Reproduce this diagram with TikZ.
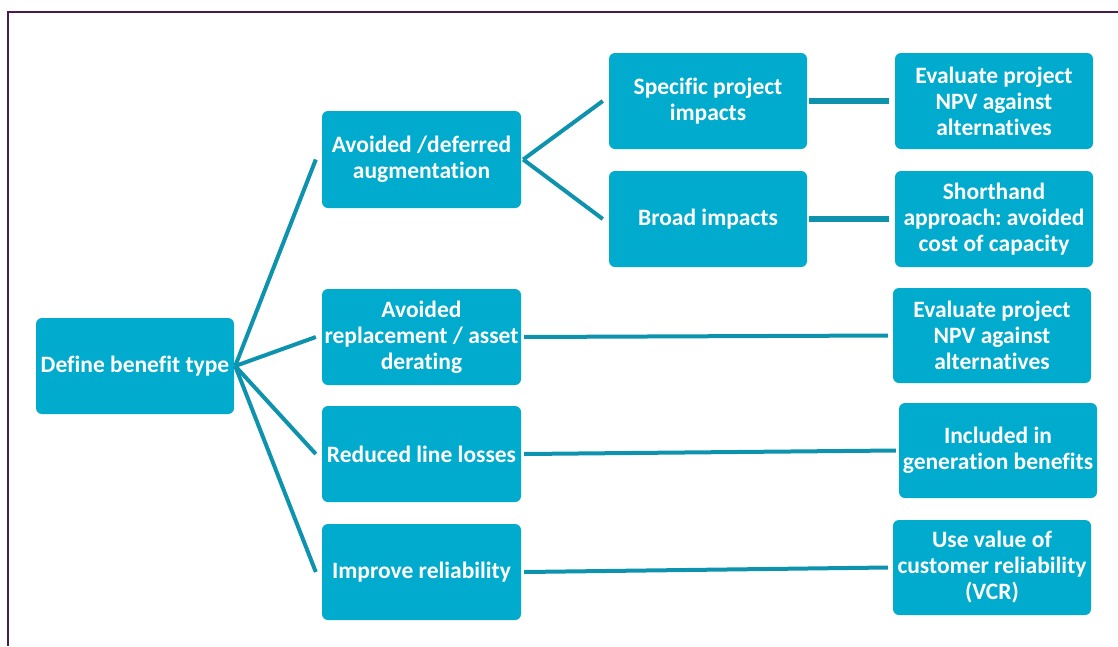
\documentclass[tikz,border=0pt]{standalone}
\usepackage{fontspec}
\setmainfont{Carlito}[Ligatures={NoCommon}]
\frenchspacing
\usetikzlibrary{calc}
\definecolor{boxfill}{HTML}{00ABCD}
\definecolor{linkcol}{HTML}{0D93AE}
\definecolor{framecol}{HTML}{4A1C4F}
\tikzset{
  stepbox/.style={rectangle, rounded corners=6pt, fill=boxfill, draw=none,
    text=white, align=center, inner sep=1pt,
    font=\fontsize{23.5}{26}\selectfont\bfseries},
  link/.style={draw=linkcol, line width=4pt},
  thicklink/.style={draw=linkcol, line width=6pt},
}
\begin{document}
\begin{tikzpicture}[x=1pt, y=-1pt]
\useasboundingbox (0,0) rectangle (1118,646);
% outer frame (top and left edges only)
\draw[framecol, line width=1.5pt] (8,646) -- (8,12) -- (1118,12);

% first level
\node[stepbox, minimum width=198pt, minimum height=96pt] (define) at (135,366) {Define benefit type};

% second level
\node[stepbox, minimum width=199pt, minimum height=97pt] (avdef) at (421.5,159.5) {Avoided /deferred\\augmentation};
\node[stepbox, minimum width=199pt, minimum height=96pt] (avrep) at (421.5,337) {Avoided\\replacement / asset\\derating};
\node[stepbox, minimum width=199pt, minimum height=96pt] (loss) at (421.5,454) {Reduced line losses};
\node[stepbox, minimum width=199pt, minimum height=96pt] (rel) at (421.5,572) {Improve reliability};

% third level
\node[stepbox, minimum width=198pt, minimum height=96pt] (spec) at (708,101) {Specific project\\impacts};
\node[stepbox, minimum width=198pt, minimum height=96pt] (broad) at (708,219) {Broad impacts};

% outcomes
\node[stepbox, minimum width=198pt, minimum height=96pt] (npvA) at (994,101) {Evaluate project\\NPV against\\alternatives};
\node[stepbox, minimum width=198pt, minimum height=96pt] (short) at (994,219) {Shorthand\\approach: avoided\\cost of capacity};
\node[stepbox, minimum width=198pt, minimum height=95pt] (npvB) at (992,335.5) {Evaluate project\\NPV against\\alternatives};
\node[stepbox, minimum width=198pt, minimum height=95pt] (incl) at (998,450.5) {Included in\\generation benefits};
\node[stepbox, minimum width=198pt, minimum height=95pt] (vcr) at (992,567.5) {Use value of\\customer reliability\\(VCR)};

% connectors from the root
\foreach \t in {avdef, avrep, loss, rel}
  \draw[link] ($(define.east)+(1,0)$) -- ($(\t.west)+(-6,0)$);

% fork to the impact boxes
\draw[link] ($(avdef.east)+(2,0)$) -- ($(spec.west)+(-6,0)$);
\draw[link] ($(avdef.east)+(2,0)$) -- ($(broad.west)+(-6,0)$);

% impacts to outcomes
\draw[thicklink] ($(spec.east)+(2,0)$) -- ($(npvA.west)+(-6,0)$);
\draw[thicklink] ($(broad.east)+(2,0)$) -- ($(short.west)+(-6,0)$);

% long links to outcomes
\draw[link] ($(avrep.east)+(3,0)$) -- ($(npvB.west)+(-5,0)$);
\draw[link] ($(loss.east)+(3,0)$) -- ($(incl.west)+(-3,0)$);
\draw[link] ($(rel.east)+(3,0)$) -- ($(vcr.west)+(-5,0)$);
\end{tikzpicture}
\end{document}
